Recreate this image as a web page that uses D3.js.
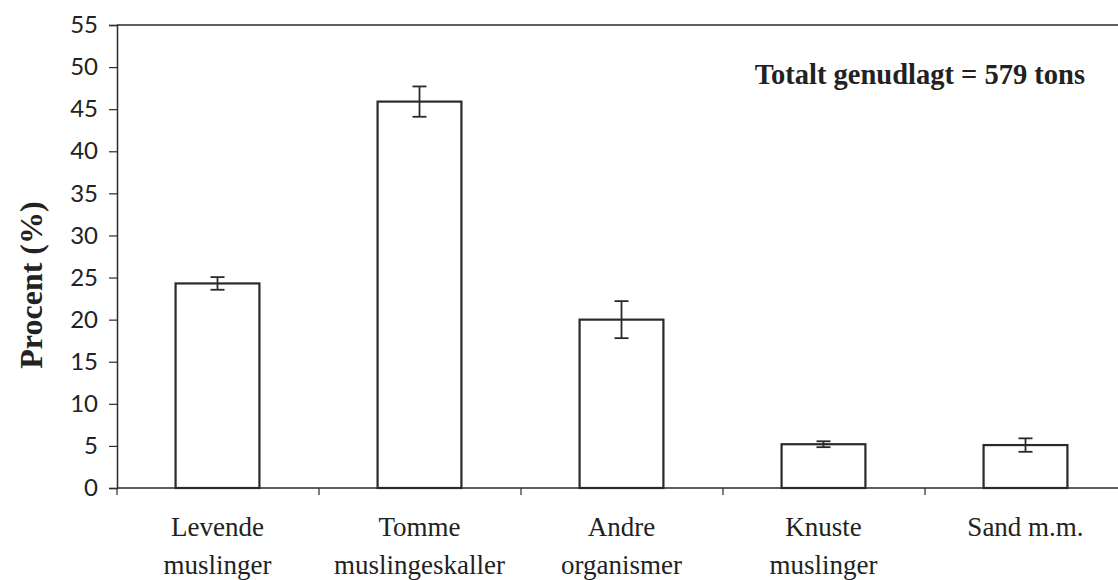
<!DOCTYPE html>
<html>
<head>
<meta charset="utf-8">
<script src="https://cdn.jsdelivr.net/npm/d3@7"></script>
<style>
  body { margin: 0; background: #fff; }
  svg { display: block; }
  .ytick text { font-family: "Lato", "Open Sans", sans-serif; font-size: 24px; fill: #222; }
  .cat { font-family: "Liberation Serif", "DejaVu Serif", serif; font-size: 27px; fill: #222; }
</style>
</head>
<body>
<div id="chart"></div>
<script>
// data
var categories = ["Levende muslinger", "Tomme muslingeskaller", "Andre organismer", "Knuste muslinger", "Sand m.m."];
var labelLines = [["Levende", "muslinger"], ["Tomme", "muslingeskaller"], ["Andre", "organismer"], ["Knuste", "muslinger"], ["Sand m.m."]];
var values = [24.3, 45.9, 20.0, 5.2, 5.1];
var errors = [0.75, 1.8, 2.2, 0.35, 0.8];
var yTicks = [0, 5, 10, 15, 20, 25, 30, 35, 40, 45, 50, 55];

var W = 1118, H = 580;
var mLeft = 117, mRight = 1126, mTop = 25, mBottom = 488;
var ink = "#2a2a2a";

var svg = d3.select("#chart").append("svg")
    .attr("width", W)
    .attr("height", H);

var x = d3.scaleBand()
    .domain(categories)
    .range([mLeft, mRight])
    .paddingInner(0.585)
    .paddingOuter(0.29);

var y = d3.scaleLinear()
    .domain([0, 55])
    .range([mBottom, mTop]);

// top frame line
svg.append("line")
    .attr("x1", mLeft).attr("x2", W)
    .attr("y1", y(55)).attr("y2", y(55))
    .attr("stroke", ink).attr("stroke-width", 1.5);

// y axis
var yAxis = svg.append("g")
    .attr("class", "ytick")
    .attr("transform", "translate(" + mLeft + ",0)")
    .call(d3.axisLeft(y).tickValues(yTicks).tickSize(8).tickPadding(11));
yAxis.select(".domain").attr("stroke", ink).attr("stroke-width", 1.5);
yAxis.selectAll(".tick line").attr("stroke", ink).attr("stroke-width", 1.2);

// x axis: ticks on the band boundaries
var bandStep = x.step();
var boundaries = d3.range(categories.length + 1).map(function(i) { return mLeft + i * bandStep; });
svg.append("line")
    .attr("x1", mLeft).attr("x2", W)
    .attr("y1", y(0)).attr("y2", y(0))
    .attr("stroke", ink).attr("stroke-width", 1.5);
svg.selectAll(".xtick")
    .data(boundaries)
    .enter().append("line")
    .attr("class", "xtick")
    .attr("x1", function(d) { return d; })
    .attr("x2", function(d) { return d; })
    .attr("y1", y(0))
    .attr("y2", y(0) + 7)
    .attr("stroke", ink).attr("stroke-width", 1.2);

// bars
svg.selectAll(".bar")
    .data(values)
    .enter().append("rect")
    .attr("class", "bar")
    .attr("x", function(d, i) { return x(categories[i]); })
    .attr("y", function(d) { return y(d); })
    .attr("width", x.bandwidth())
    .attr("height", function(d) { return y(0) - y(d); })
    .attr("fill", "#fff")
    .attr("stroke", ink)
    .attr("stroke-width", 2.2);

// error bars
var capW = 7;
var eb = svg.selectAll(".err")
    .data(values)
    .enter().append("g")
    .attr("class", "err")
    .attr("transform", function(d, i) { return "translate(" + (x(categories[i]) + x.bandwidth() / 2) + ",0)"; });
eb.append("line")
    .attr("y1", function(d, i) { return y(d + errors[i]); })
    .attr("y2", function(d, i) { return y(d - errors[i]); })
    .attr("stroke", ink).attr("stroke-width", 1.8);
eb.append("line")
    .attr("x1", -capW).attr("x2", capW)
    .attr("y1", function(d, i) { return y(d + errors[i]); })
    .attr("y2", function(d, i) { return y(d + errors[i]); })
    .attr("stroke", ink).attr("stroke-width", 1.8);
eb.append("line")
    .attr("x1", -capW).attr("x2", capW)
    .attr("y1", function(d, i) { return y(d - errors[i]); })
    .attr("y2", function(d, i) { return y(d - errors[i]); })
    .attr("stroke", ink).attr("stroke-width", 1.8);

// category labels
var cat = svg.selectAll(".cat")
    .data(labelLines)
    .enter().append("text")
    .attr("class", "cat")
    .attr("text-anchor", "middle")
    .attr("x", function(d, i) { return x(categories[i]) + x.bandwidth() / 2; })
    .attr("y", 536);
cat.selectAll("tspan")
    .data(function(d) { return d; })
    .enter().append("tspan")
    .attr("x", function() { return d3.select(this.parentNode).attr("x"); })
    .attr("dy", function(d, j) { return j === 0 ? 0 : 38; })
    .text(function(d) { return d; });

// y axis title
svg.append("text")
    .attr("transform", "translate(42,285) rotate(-90)")
    .attr("text-anchor", "middle")
    .style("font-family", "'Liberation Serif', 'DejaVu Serif', serif")
    .style("font-weight", "bold")
    .style("font-size", "32px")
    .style("fill", "#222")
    .text("Procent (%)");

// annotation
svg.append("text")
    .attr("x", 1085)
    .attr("y", 84)
    .attr("text-anchor", "end")
    .style("font-family", "'Liberation Serif', 'DejaVu Serif', serif")
    .style("font-weight", "bold")
    .style("font-size", "28.5px")
    .style("fill", "#222")
    .text("Totalt genudlagt = 579 tons");
</script>
</body>
</html>
